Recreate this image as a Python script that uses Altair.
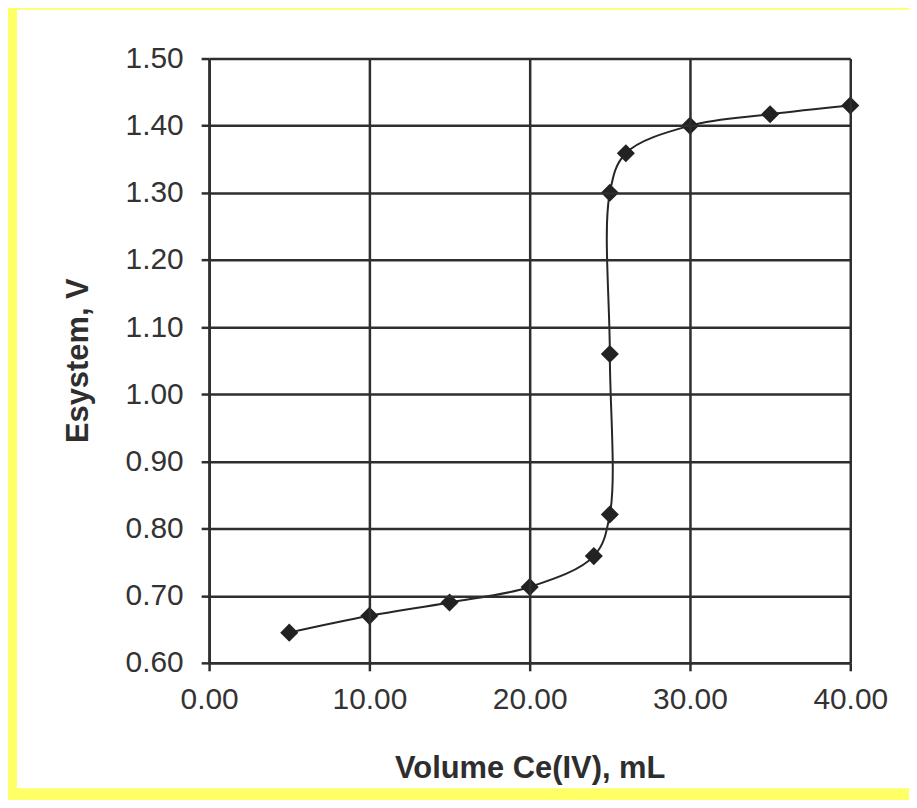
import altair as alt
import pandas as pd

volume_ml = [5, 10, 15, 20, 24, 25, 25, 25, 26, 30, 35, 40]
e_system_v = [0.645, 0.670, 0.690, 0.713, 0.759, 0.821, 1.060, 1.300, 1.359, 1.400, 1.417, 1.430]
order = list(range(len(volume_ml)))

x_ticks = [0, 10, 20, 30, 40]
y_ticks = [0.6, 0.7, 0.8, 0.9, 1.0, 1.1, 1.2, 1.3, 1.4, 1.5]

df = pd.DataFrame({"v": volume_ml, "e": e_system_v, "o": order})

FONT = "Liberation Sans"
INK = "#262626"

x_enc = alt.X(
    "v:Q",
    scale=alt.Scale(domain=[0, 40], nice=False),
    axis=alt.Axis(
        values=x_ticks, format=".2f", title="Volume Ce(IV), mL",
        labelFlush=False, titleX=322, titleY=106,
        titleAlign="center", titleBaseline="middle", zindex=2,
    ),
)
y_enc = alt.Y(
    "e:Q",
    scale=alt.Scale(domain=[0.6, 1.5], nice=False, zero=False),
    axis=alt.Axis(
        values=y_ticks, format=".2f", title="Esystem, V",
        labelFlush=False, titleX=-131, titleY=303,
        titleAlign="center", titleBaseline="middle", titleAngle=-90, zindex=2,
    ),
)

base = alt.Chart(df)

panel = alt.Chart(alt.Data(values=[{"a": 1}])).mark_rect(
    color="white", strokeWidth=0
).encode(
    x=alt.value(-193), x2=alt.value(703), y=alt.value(-49), y2=alt.value(733)
)

line = base.mark_line(
    interpolate="catmull-rom", color=INK, strokeWidth=2
).encode(x=x_enc, y=y_enc, order="o:Q")

pts = base.mark_point(
    shape="diamond", filled=True, size=330, color="#222222", opacity=1
).encode(x=x_enc, y=y_enc)

chart = (
    alt.layer(panel, line, pts)
    .properties(
        width=644, height=607,
        autosize=alt.AutoSizeParams(type="none"),
        padding={"left": 202, "top": 49, "right": 59, "bottom": 136},
        background="#FFFF66",
    )
    .configure_view(stroke=None)
    .configure_axis(
        grid=True, gridColor="#2e2e2e", gridWidth=2.5, gridOpacity=1,
        domainColor="#2e2e2e", domainWidth=2.5,
        tickColor="#2e2e2e", tickWidth=2.5, tickSize=8,
        labelFont=FONT, labelFontSize=30, labelColor="#333333",
        titleFont=FONT, titleFontSize=31, titleFontWeight="bold", titleColor="#2e2e2e",
    )
    .configure_axisX(labelPadding=14)
    .configure_axisY(labelPadding=18)
)

chart.save("out.html", embed_options={"renderer": "svg", "actions": False})
